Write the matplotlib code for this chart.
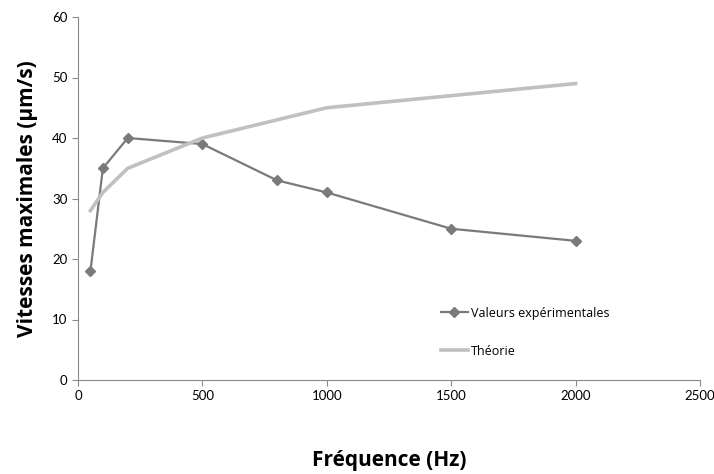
import matplotlib
matplotlib.use("Agg")
import matplotlib.pyplot as plt

plt.rcParams['font.family'] = ['Lato', 'DejaVu Sans']

freq_exp = [50, 100, 200, 500, 800, 1000, 1500, 2000]
vit_exp = [18, 35, 40, 39, 33, 31, 25, 23]
freq_theo = [50, 100, 200, 500, 1000, 1500, 2000]
vit_theo = [28, 31, 35, 40, 45, 47, 49]

fig = plt.figure(figsize=(7.14, 4.74), dpi=100)
ax = fig.add_axes([78 / 714, 1 - 380 / 474, 622 / 714, 363 / 474])

ax.plot(freq_exp, vit_exp, color='#7a7a7a', lw=1.6, marker='D', ms=5.5,
        label='Valeurs expérimentales')
ax.plot(freq_theo, vit_theo, color='#c0c0c0', lw=2.6, label='Théorie')

ax.set_xlim(0, 2500)
ax.set_ylim(0, 60)
ax.set_xticks(range(0, 2501, 500))
ax.set_yticks(range(0, 61, 10))
for s in ['top', 'right']:
    ax.spines[s].set_visible(False)
for s in ['left', 'bottom']:
    ax.spines[s].set_color('#8a8a8a')
ax.tick_params(colors='#8a8a8a', labelcolor='black', labelsize=9.5, length=4)

lab_font = {'family': ['Open Sans', 'DejaVu Sans'], 'size': 15, 'weight': 'bold'}
ax.set_xlabel('Fréquence (Hz)', fontdict=lab_font, labelpad=34)
ax.set_ylabel('Vitesses maximales (µm/s)', fontdict=lab_font, labelpad=10)

leg = ax.legend(loc='lower left', bbox_to_anchor=(0.565, 0.03), frameon=False,
                prop={'family': ['Open Sans', 'DejaVu Sans'], 'size': 9},
                handlelength=2.2, handletextpad=0.2, labelspacing=2.0)

fig.savefig('out.png', dpi=100)
